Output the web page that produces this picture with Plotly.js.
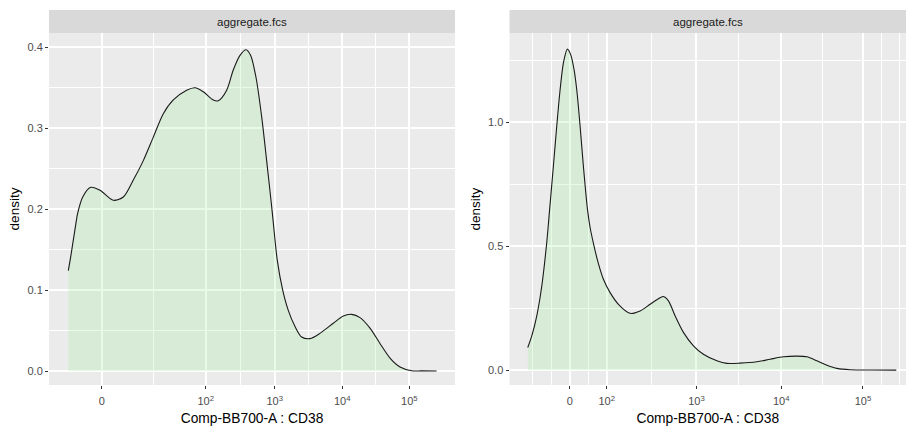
<!DOCTYPE html>
<html>
<head>
<meta charset="utf-8">
<script src="https://cdn.plot.ly/plotly-3.0.1.min.js"></script>
<style>html,body{margin:0;padding:0;background:#fff;}#chart{width:907px;height:429px;}</style>
</head>
<body>
<div id="chart"></div>
<script>
// Data on the transformed (biexponential display) scale of each panel
const stripLabel = "aggregate.fcs";
const xTitle = "Comp-BB700-A : CD38";
const yTitle = "density";

const leftX = [-0.491,-0.456,-0.378,-0.353,-0.279,-0.162,-0.025,0.171,0.318,0.465,0.612,0.759,0.906,1.053,1.25,1.372,1.494,1.641,1.715,1.838,1.935,2.034,2.122,2.191,2.269,2.353,2.426,2.5,2.524,2.582,2.662,2.744,2.843,2.941,3.063,3.21,3.406,3.553,3.676,3.799,3.946,4.093,4.24,4.387,4.559,4.7,4.926];
const leftY = [0.124,0.141,0.183,0.195,0.215,0.227,0.2235,0.211,0.215,0.236,0.260,0.289,0.318,0.335,0.347,0.350,0.345,0.335,0.334,0.347,0.372,0.390,0.397,0.390,0.363,0.314,0.260,0.203,0.183,0.137,0.100,0.075,0.055,0.042,0.040,0.0465,0.059,0.068,0.070,0.066,0.053,0.034,0.016,0.005,0.0004,0.0001,0];

const rightX = [-0.5,-0.452,-0.393,-0.333,-0.274,-0.243,-0.195,-0.155,-0.115,-0.076,-0.029,0.012,0.051,0.083,0.123,0.162,0.21,0.242,0.289,0.34,0.4,0.48,0.579,0.718,0.837,0.956,1.075,1.114,1.174,1.254,1.352,1.471,1.59,1.75,1.869,2.027,2.226,2.385,2.543,2.702,2.821,2.94,3.06,3.179,3.336,3.6,3.885];
const rightY = [0.091,0.138,0.218,0.339,0.514,0.634,0.822,0.983,1.130,1.238,1.294,1.271,1.211,1.130,0.983,0.822,0.650,0.575,0.500,0.430,0.366,0.3125,0.2655,0.229,0.2386,0.2655,0.292,0.2965,0.279,0.218,0.152,0.098,0.064,0.0375,0.027,0.028,0.0335,0.044,0.0536,0.0563,0.0536,0.0375,0.020,0.007,0.0013,0.0002,0];

const xTickText = ["0","10<sup>2</sup>","10<sup>3</sup>","10<sup>4</sup>","10<sup>5</sup>"];
const leftXTicks = [0,1.529,2.544,3.538,4.524];
const rightXTicks = [0,0.44,1.507,2.515,3.488];
const leftYTicks = [0,0.1,0.2,0.3,0.4];
const leftYText = ["0.0","0.1","0.2","0.3","0.4"];
const rightYTicks = [0,0.5,1.0];
const rightYText = ["0.0","0.5","1.0"];

// ggplot-style minor breaks: midpoints, extended one interval beyond ends
function minorBreaks(b){
  const bd = b[1]-b[0];
  const e = [b[0]-bd].concat(b, [b[b.length-1]+bd]);
  const out = [];
  for(let i=0;i<e.length-1;i++){ out.push(e[i]); out.push((e[i]+e[i+1])/2); }
  out.push(e[e.length-1]);
  return out.filter(v => b.indexOf(v) < 0);
}

const fillCol = "rgba(144,238,144,0.22)";
const traces = [
  {x:leftX, y:leftY, xaxis:"x", yaxis:"y", type:"scatter", mode:"lines", fill:"tozeroy", fillcolor:fillCol,
   line:{color:"#1a1a1a", width:1.1, shape:"spline", smoothing:0.8}, hoverinfo:"skip", showlegend:false},
  {x:rightX, y:rightY, xaxis:"x2", yaxis:"y2", type:"scatter", mode:"lines", fill:"tozeroy", fillcolor:fillCol,
   line:{color:"#1a1a1a", width:1.1, shape:"spline", smoothing:0.8}, hoverinfo:"skip", showlegend:false}
];

const font = "Liberation Sans, Arial, sans-serif";
const tickFont = {family:font, size:11, color:"#4d4d4d"};
function xAxis(domain, range, ticks, anchor){
  return {domain:domain, range:range, anchor:anchor, tickmode:"array", tickvals:ticks, ticktext:xTickText,
    ticks:"outside", ticklen:3, tickwidth:1, tickcolor:"#333", tickfont:tickFont, ticklabelstandoff:3,
    showgrid:true, gridcolor:"#ffffff", gridwidth:1.5, zeroline:false, showline:false,
    minor:{tickmode:"array", tickvals:minorBreaks(ticks), showgrid:true, gridcolor:"#ffffff", gridwidth:0.8, ticks:""},
    title:{text:xTitle, font:{family:font, size:13.8, color:"#000"}, standoff:7}, automargin:false, fixedrange:true};
}
function yAxis(domain, range, ticks, text, anchor){
  return {domain:domain, range:range, anchor:anchor, tickmode:"array", tickvals:ticks, ticktext:text,
    ticks:"outside", ticklen:3, tickwidth:1, tickcolor:"#333", tickfont:tickFont,
    showgrid:true, gridcolor:"#ffffff", gridwidth:1.5, zeroline:false, showline:false,
    minor:{tickmode:"array", tickvals:minorBreaks(ticks), showgrid:true, gridcolor:"#ffffff", gridwidth:0.8, ticks:""},
    title:{text:yTitle, font:{family:font, size:13.5, color:"#000"}, standoff:4}, automargin:false, fixedrange:true};
}

const W = 907, H = 429;
const yDom = [(H-385)/H, (H-33)/H];
const lDom = [49/W, 455/W];
const rDom = [509.5/W, 906/W];
const stripTop = (H-10)/H;

const layout = {
  width:W, height:H, margin:{l:0,r:0,t:0,b:0},
  paper_bgcolor:"#ffffff", plot_bgcolor:"#ebebeb", showlegend:false,
  xaxis: xAxis(lDom, [-0.775, 5.196], leftXTicks, "y"),
  yaxis: yAxis(yDom, [-0.0173, 0.4177], leftYTicks, leftYText, "x"),
  xaxis2: xAxis(rDom, [-0.717, 4.0], rightXTicks, "y2"),
  yaxis2: yAxis(yDom, [-0.06, 1.359], rightYTicks, rightYText, "x2"),
  shapes:[
    {type:"rect", xref:"paper", yref:"paper", x0:lDom[0], x1:lDom[1], y0:yDom[1], y1:stripTop, fillcolor:"#d9d9d9", line:{width:0}, layer:"below"},
    {type:"rect", xref:"paper", yref:"paper", x0:rDom[0], x1:rDom[1], y0:yDom[1], y1:stripTop, fillcolor:"#d9d9d9", line:{width:0}, layer:"below"}
  ],
  annotations:[
    {xref:"paper", yref:"paper", x:(lDom[0]+lDom[1])/2, y:(yDom[1]+stripTop)/2, text:stripLabel, showarrow:false, xanchor:"center", yanchor:"middle", font:{family:font, size:11.5, color:"#1a1a1a"}},
    {xref:"paper", yref:"paper", x:(rDom[0]+rDom[1])/2, y:(yDom[1]+stripTop)/2, text:stripLabel, showarrow:false, xanchor:"center", yanchor:"middle", font:{family:font, size:11.5, color:"#1a1a1a"}}
  ]
};

Plotly.newPlot("chart", traces, layout, {displayModeBar:false});
</script>
</body>
</html>
